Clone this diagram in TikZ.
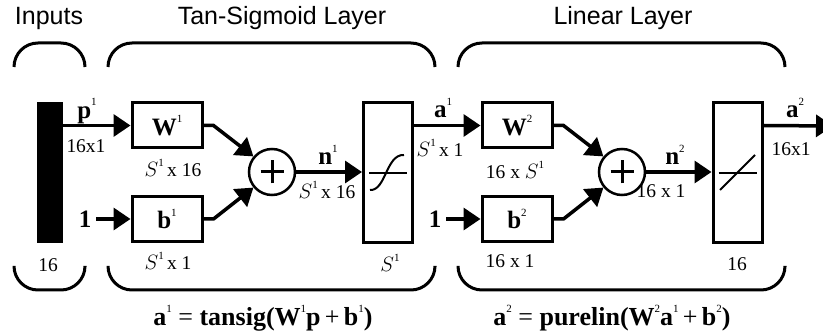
\documentclass[tikz,border=0pt]{standalone}
\usepackage{fontspec}
\setmainfont{Liberation Serif}
\setsansfont{Liberation Sans}
\usetikzlibrary{arrows.meta}
\newcommand\up[1]{\raisebox{0.5em}{\fontsize{11}{11}\selectfont\mdseries #1}}
\begin{document}
\begin{tikzpicture}[x=1pt,y=-1pt,
  ttl/.style={font=\sffamily\fontsize{25}{27}\selectfont, inner sep=0},
  lbl/.style={font=\fontsize{25}{27}\selectfont\bfseries, inner sep=0},
  eqlbl/.style={font=\fontsize{26}{28}\selectfont\bfseries, inner sep=0},
  dimlbl/.style={font=\fontsize{19.5}{21}\selectfont, inner sep=0},
  blk/.style={draw, line width=3pt, minimum width=70pt, minimum height=45pt, inner sep=0, font=\fontsize{25}{27}\selectfont\bfseries},
  tfbox/.style={draw, line width=3pt, minimum width=49pt, minimum height=140pt, inner sep=0},
  sumnode/.style={draw, circle, line width=2.5pt, minimum size=46pt, inner sep=0},
  arr/.style={line width=3.5pt, -{Triangle[length=17pt,width=22pt]}},
  brace/.style={line width=3pt, rounded corners=24pt}
]
\clip (0,0) rectangle (823,336);
\useasboundingbox (0,0) rectangle (823,336);

% titles
\node[ttl] (tin) at (49,18) {Inputs};
\node[ttl] (ttan) at (282,18) {Tan-Sigmoid Layer};
\node[ttl] (tlin) at (623,18) {Linear Layer};

% braces top
\draw[brace] (14,67) -- (14,43) -- (85,43) -- (85,67);
\draw[brace] (108,67) -- (108,43) -- (435,43) -- (435,67);
\draw[brace] (458,67) -- (458,43) -- (785,43) -- (785,67);
% braces bottom
\draw[brace] (14,267) -- (14,290) -- (85,290) -- (85,267);
\draw[brace] (108,267) -- (108,290) -- (435,290) -- (435,267);
\draw[brace] (458,267) -- (458,290) -- (785,290) -- (785,267);

% input bar
\node[fill=black, minimum width=26pt, minimum height=141pt, inner sep=0] (bar) at (50,172.5) {};
\node[dimlbl] (n16a) at (48,265) {16};

% layer 1
\node[blk] (W1) at (167,125.5) {W\up{1}};
\node[blk] (b1) at (167,219) {b\up{1}};
\node[sumnode] (s1) at (272,172) {};
\draw[line width=3pt] ([xshift=-11.5pt]s1.center) -- ([xshift=11.5pt]s1.center);
\draw[line width=3pt] ([yshift=-11.5pt]s1.center) -- ([yshift=11.5pt]s1.center);
\node[tfbox] (f1) at (388,173) {};
\draw[line width=1.5pt] ([xshift=-19pt]f1.center) -- ([xshift=19pt]f1.center);
\draw[line width=2pt] (370,190) .. controls (386,191) and (386,154) .. (404,155);

\node[lbl] (one1) at (85,219) {1};
\node[lbl] (p1) at (87,111) {p\up{1}};
\node[dimlbl] (d1) at (86,146) {16x1};
\node[dimlbl] (dW1) at (173,168) {$S$\up{1}\,x 16};
\node[dimlbl] (db1) at (168,261) {$S$\up{1}\,x 1};
\node[lbl] (nn1) at (328,155) {n\up{1}};
\node[dimlbl] (dn1) at (327,190) {$S$\up{1}\,x 16};
\node[font=\fontsize{21}{23}\selectfont, inner sep=0] (dS1) at (390,263) {$S$\up{1}};

\draw[arr] (bar.east |- W1.west) -- (W1.west);
\draw[arr] ([xshift=5pt]one1.east) -- (b1.west);
\draw[arr] (W1.east) -- ++(10,0) -- (s1.140);
\draw[arr] (b1.east) -- ++(10,0) -- (s1.-140);
\draw[arr] (s1.east) -- (f1.west |- s1.east);

% layer 2
\node[blk] (W2) at (517,125.5) {W\up{2}};
\node[blk] (b2) at (517,219) {b\up{2}};
\node[sumnode] (s2) at (622,172) {};
\draw[line width=3pt] ([xshift=-11.5pt]s2.center) -- ([xshift=11.5pt]s2.center);
\draw[line width=3pt] ([yshift=-11.5pt]s2.center) -- ([yshift=11.5pt]s2.center);
\node[tfbox] (f2) at (737.5,173) {};
\draw[line width=1.5pt] ([xshift=-19pt]f2.center) -- ([xshift=19pt]f2.center);
\draw[line width=2pt] (720,190) -- (755,155);

\node[lbl] (one2) at (435,219) {1};
\node[lbl] (a1) at (443,108) {a\up{1}};
\node[dimlbl] (da1) at (440,148) {$S$\up{1}\,x 1};
\node[dimlbl] (dW2) at (515,170) {16 x $S$\up{1}};
\node[dimlbl] (db2) at (510,261) {16 x 1};
\node[lbl] (nn2) at (675,155) {n\up{2}};
\node[dimlbl] (dn2) at (661,191) {16 x 1};
\node[dimlbl] (d16b) at (737,264) {16};
\node[lbl] (a2) at (795,108) {a\up{2}};
\node[dimlbl] (da2) at (791,149) {16x1};
\coordinate (out) at (833,126);

\draw[arr] (f1.east |- W2.west) -- (W2.west);
\draw[arr] ([xshift=5pt]one2.east) -- (b2.west);
\draw[arr] (W2.east) -- ++(10,0) -- (s2.140);
\draw[arr] (b2.east) -- ++(10,0) -- (s2.-140);
\draw[arr] (s2.east) -- (f2.west |- s2.east);
\draw[arr] (f2.east |- W2.west) -- (out);

% equations
\node[eqlbl] (eq1) at (263,318) {a\up{1} \mdseries=\bfseries{} tansig(W\up{1}p\,\mdseries+\bfseries\,b\up{1})};
\node[eqlbl] (eq2) at (612,318) {a\up{2} \mdseries=\bfseries{} purelin(W\up{2}a\up{1}\,\mdseries+\bfseries\,b\up{2})};
\end{tikzpicture}
\end{document}
